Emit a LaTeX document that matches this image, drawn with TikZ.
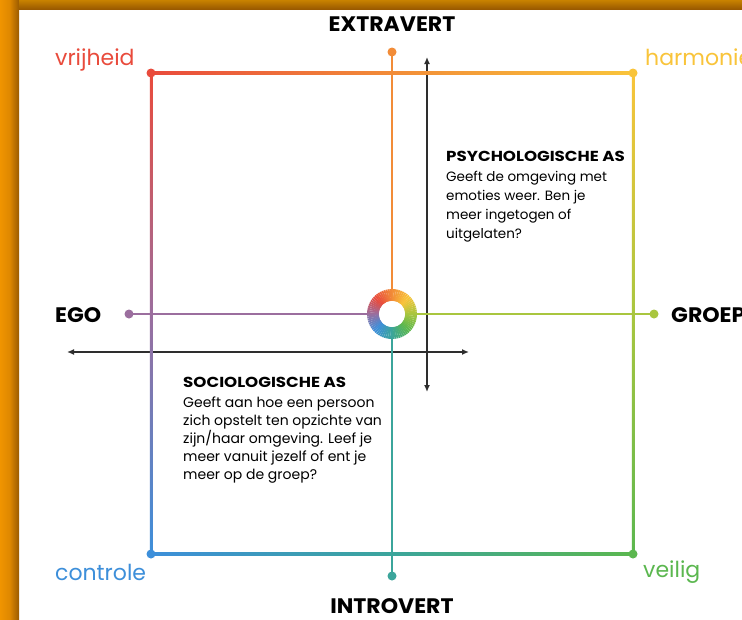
\documentclass[tikz,border=0pt]{standalone}
\usepackage{fontspec}
\setmainfont{Poppins}
\newfontfamily\ttlfont[FakeStretch=1.15]{Poppins}
\newfontfamily\axfont[FakeStretch=1.05]{Poppins}
\usetikzlibrary{arrows.meta,calc}
\definecolor{cred}{HTML}{E94B3C}
\definecolor{corg}{HTML}{F28C38}
\definecolor{cyel}{HTML}{F9C43A}
\definecolor{cyg}{HTML}{A9C63F}
\definecolor{cgrn}{HTML}{5BB74F}
\definecolor{cteal}{HTML}{3BA59B}
\definecolor{cblu}{HTML}{3D8FDA}
\definecolor{cpur}{HTML}{9B6E9E}
\definecolor{darkline}{HTML}{2E2E2E}
\definecolor{frameA}{HTML}{F09400}
\definecolor{frameB}{HTML}{9A5A00}
\definecolor{frameC}{HTML}{C88200}
\begin{document}
\begin{tikzpicture}[x=1pt,y=-1pt,
  cornerlbl/.style={font=\fontsize{22}{26}\selectfont, inner sep=0, anchor=base west},
  axislbl/.style={font=\axfont\bfseries\fontsize{21}{24}\selectfont, inner sep=0},
  ttl/.style={font=\ttlfont\bfseries\fontsize{14.5}{17}\selectfont, inner sep=0, anchor=base west},
  bodyA/.style={font=\fontsize{13.5}{16}\selectfont, inner sep=0, anchor=base west},
  bodyB/.style={font=\fontsize{14}{16}\selectfont, inner sep=0, anchor=base west},
  dotc/.style={circle, fill, inner sep=0, minimum size=9pt},
  axisarrow/.style={draw=darkline, line width=1.5pt, {Latex[length=7pt,width=6pt]}-{Latex[length=7pt,width=6pt]}},
  cline/.style={line width=2.5pt}
]
\useasboundingbox (0,0) rectangle (742,619);
\fill[white] (0,0) rectangle (742,619);
% frame
\shade[left color=frameA, right color=frameB, middle color=frameA!80!frameB] (0,0) rectangle (19,619);
\shade[top color=frameC, bottom color=frameB] (19,0) rectangle (742,9);

% coordinates
\coordinate (tl) at (151,73);
\coordinate (tr) at (633,73);
\coordinate (bl) at (151,554);
\coordinate (br) at (633,554);
\coordinate (ring) at (392,314);
\coordinate (aT) at (427,57);
\coordinate (aB) at (427,392);
\coordinate (aL) at (67,352);
\coordinate (aR) at (469,352);

% black axis arrows
\draw[axisarrow] (aB) -- (aT);
\draw[axisarrow] (aL) -- (aR);

% square edges with gradients
\shade[left color=cred, right color=cyel, middle color=corg] ($(tl)+(0,-1.25)$) rectangle ($(tr)+(0,1.25)$);
\shade[left color=cblu, right color=cgrn, middle color=cteal] ($(bl)+(0,-1.25)$) rectangle ($(br)+(0,1.25)$);
\shade[top color=cred, bottom color=cblu, middle color=cpur] ($(tl)+(-1.25,0)$) rectangle ($(bl)+(1.25,0)$);
\shade[top color=cyel, bottom color=cgrn, middle color=cyg] ($(tr)+(-1.25,0)$) rectangle ($(br)+(1.25,0)$);

% end dots
\node[dotc, cred] (dTL) at (tl) {};
\node[dotc, cyel] (dTR) at (tr) {};
\node[dotc, cblu] (dBL) at (bl) {};
\node[dotc, cgrn] (dBR) at (br) {};
\node[dotc, corg] (dT) at (392,52) {};
\node[dotc, cteal] (dB) at (392,576) {};
\node[dotc, cpur] (dL) at (129,314) {};
\node[dotc, cyg] (dR) at (654,314) {};

% center lines
\draw[cline, corg] (dT.center) -- ($(ring)+(0,-20)$);
\draw[cline, cteal] (dB.center) -- ($(ring)+(0,20)$);
\draw[cline, cpur] (dL.center) -- ($(ring)+(-20,0)$);
\draw[cline, cyg] (dR.center) -- ($(ring)+(20,0)$);

% ring (conic colours)
\foreach \ca/\cb [count=\k from 0] in {cyg/cyel, cyel/corg, corg/cred, cred/cpur, cpur/cblu, cblu/cteal, cteal/cgrn, cgrn/cyg}{
  \foreach \j in {0,...,8}{
    \pgfmathsetmacro\a{\k*45+\j*5}
    \pgfmathsetmacro\p{100-(\j+0.5)*100/9}
    \draw[line width=12pt, \ca!\p!\cb] (ring) ++(-\a:19) arc[start angle=-\a, end angle=-\a-5.6, radius=19];
  }
}
\fill[white] (ring) circle[radius=13];

% axis labels
\node[axislbl, anchor=base] (extra) at (392,31) {EXTRAVERT};
\node[axislbl, anchor=base] (intro) at (392,613) {INTROVERT};
\node[axislbl, anchor=base west] (ego) at (55,322) {EGO};
\node[axislbl, anchor=base west] (groep) at (671,322) {GROEP};

% corner labels
\node[cornerlbl, text=cred] (vrij) at (55,65) {vrijheid};
\node[cornerlbl, text=cyel] (harm) at (645,65) {harmonie};
\node[cornerlbl, text=cblu] (contr) at (55,580) {controle};
\node[cornerlbl, text=cgrn] (veil) at (643,577) {veilig};

% psychologische as
\node[ttl] (psyT) at (446,161) {PSYCHOLOGISCHE AS};
\foreach \t [count=\i] in {{Geeft de omgeving met},{emoties weer. Ben je},{meer ingetogen of},{uitgelaten?}}{
  \node[bodyA] (psy\i) at (446,{162+19*\i}) {\t};
}
% sociologische as
\node[ttl] (socT) at (183,387) {SOCIOLOGISCHE AS};
\foreach \t [count=\i] in {{Geeft aan hoe een persoon},{zich opstelt ten opzichte van},{zijn/haar omgeving. Leef je},{meer vanuit jezelf of ent je},{meer op de groep?}}{
  \node[bodyB] (soc\i) at (183,{389+18*\i}) {\t};
}
\end{tikzpicture}
\end{document}
